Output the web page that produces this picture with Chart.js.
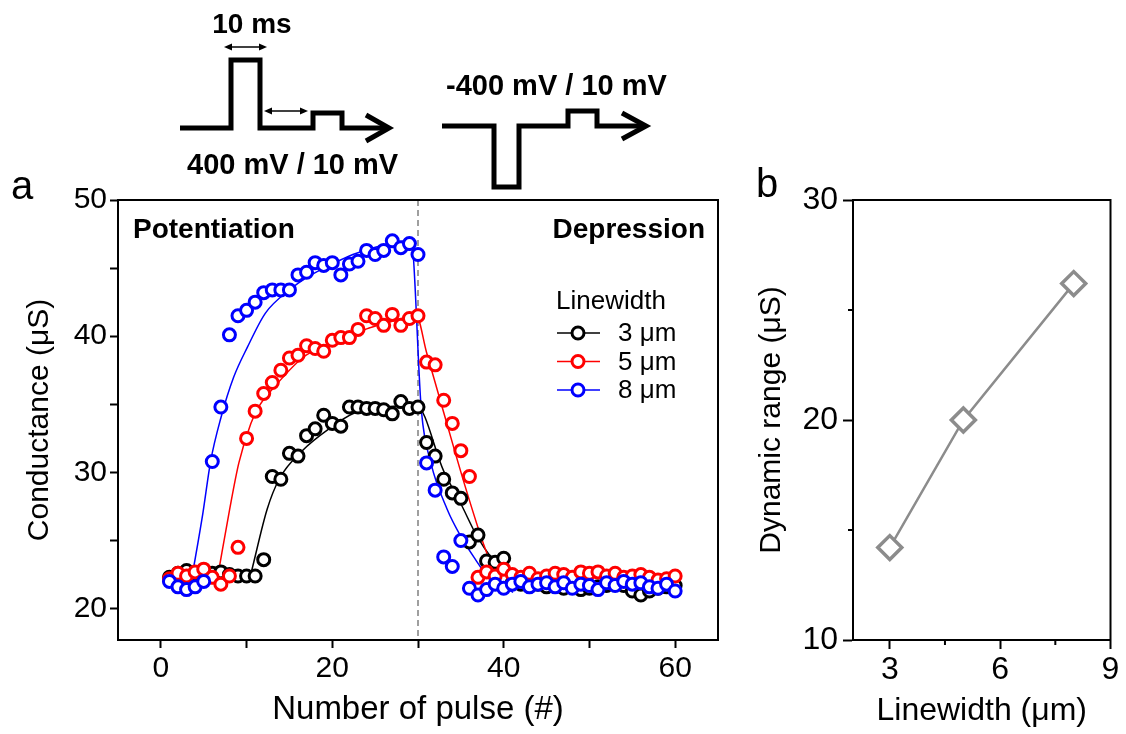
<!DOCTYPE html>
<html>
<head>
<meta charset="utf-8">
<script src="https://cdn.jsdelivr.net/npm/chart.js@4.4.1/dist/chart.umd.min.js"></script>
<style>
  body { margin: 0; background: #fff; width: 1126px; height: 734px; position: relative; overflow: hidden; font-family: "Liberation Sans", Arial, sans-serif; }
  #boxA { position: absolute; left: 0; top: 0; width: 740px; height: 734px; }
  #boxB { position: absolute; left: 740px; top: 0; width: 386px; height: 734px; }
  svg { position: absolute; left: 0; top: 0; }
</style>
</head>
<body>
<div id="boxA"><canvas id="chartA"></canvas></div>
<div id="boxB"><canvas id="chartB"></canvas></div>
<svg width="1126" height="734" font-family="Liberation Sans, Arial, sans-serif">
  <text x="11" y="199" font-size="40">a</text>
  <text x="756" y="197" font-size="40">b</text>
  <g fill="none" stroke="#000" stroke-width="5">
    <path d="M180,128 H231 V60 H260 V128 H313 V113 H342 V128 H387"/>
    <path d="M366,115 L389,128 L366,141"/>
    <path d="M442,126 H494 V187 H519 V126 H568 V111 H597 V126 H644"/>
    <path d="M622,113 L646,126 L622,139"/>
  </g>
  <g stroke="#000" stroke-width="1.5">
    <line x1="229" y1="47" x2="262" y2="47"/>
    <line x1="269" y1="111" x2="303" y2="111"/>
  </g>
  <g fill="#000">
    <polygon points="224,47 232,43.5 232,50.5"/>
    <polygon points="267,47 259,43.5 259,50.5"/>
    <polygon points="264,111 272,107.5 272,114.5"/>
    <polygon points="308,111 300,107.5 300,114.5"/>
  </g>
  <g font-weight="bold" fill="#000">
    <text x="252" y="33" font-size="28" text-anchor="middle">10 ms</text>
    <text x="187" y="174" font-size="29">400 mV / 10 mV</text>
    <text x="446" y="95" font-size="29">-400 mV / 10 mV</text>
  </g>
</svg>
<script>
// panel a: conductance per pulse, three linewidths
const pulses = [1, 2, 3, 4, 5, 6, 7, 8, 9, 10, 11, 12, 13, 14, 15, 16, 17, 18, 19, 20,
  21, 22, 23, 24, 25, 26, 27, 28, 29, 30, 31, 32, 33, 34, 35, 36, 37, 38, 39, 40,
  41, 42, 43, 44, 45, 46, 47, 48, 49, 50, 51, 52, 53, 54, 55, 56, 57, 58, 59, 60];
const black3 = [22.3, 22.6, 22.8, 22.6, 22.5, 22.6, 22.7, 22.5, 22.4, 22.4,
  22.4, 23.6, 29.7, 29.5, 31.4, 31.2, 32.7, 33.2, 34.2, 33.6,
  33.4, 34.8, 34.8, 34.7, 34.7, 34.6, 34.3, 35.2, 34.7, 34.8,
  32.2, 31.2, 29.5, 28.5, 28.1, 24.9, 25.4, 23.5, 23.4, 23.7,
  21.9, 21.8, 21.7, 21.8, 21.6, 21.7, 21.5, 21.6, 21.4, 21.5,
  21.6, 21.7, 21.8, 21.7, 21.3, 21.0, 21.3, 21.5, 21.6, 21.7];
const red5 = [22.2, 22.6, 22.4, 22.7, 22.9, 22.3, 21.8, 22.4, 24.5, 32.5,
  34.5, 35.8, 36.6, 37.5, 38.4, 38.6, 39.3, 39.1, 38.9, 39.7,
  39.9, 39.9, 40.5, 41.5, 41.3, 40.8, 41.6, 40.8, 41.3, 41.5,
  38.1, 37.9, 35.3, 33.6, 31.6, 29.7, 22.3, 22.7, 22.4, 22.9,
  22.5, 22.3, 22.6, 22.2, 22.4, 22.6, 22.5, 22.3, 22.7, 22.6,
  22.7, 22.4, 22.6, 22.3, 22.4, 22.5, 22.3, 22.1, 22.2, 22.4];
const blue8 = [22.0, 21.6, 21.4, 21.6, 22.0, 30.8, 34.8, 40.1, 41.5, 41.9,
  42.5, 43.2, 43.4, 43.4, 43.4, 44.5, 44.7, 45.4, 45.2, 45.4,
  44.5, 45.3, 45.5, 46.3, 46.0, 46.3, 47.0, 46.5, 46.8, 46.0,
  30.7, 28.7, 23.8, 23.1, 25.0, 21.5, 21.0, 21.4, 21.8, 21.5,
  21.8, 22.0, 21.6, 21.8, 21.9, 21.6, 21.9, 21.5, 21.8, 21.7,
  21.4, 21.9, 21.7, 22.0, 21.8, 21.9, 21.6, 21.5, 21.8, 21.3];

// fitted curves
const blackFitX = [10.6, 12.4, 13.8, 16.5, 19.6, 22.7, 26.0, 29.8, 33.0, 35.0, 36.9, 38.5, 40.8, 43.9, 45.5];
const blackFitY = [22.8, 27.3, 29.5, 31.6, 33.2, 34.4, 34.8, 34.9, 30.1, 27.7, 25.3, 23.8, 22.4, 21.4, 21.2];
const redFitX = [6.7, 8.0, 9.1, 10.5, 11.5, 13.0, 16.5, 19.0, 21.9, 24.3, 27.0, 29.8, 31.0, 32.0, 33.0, 35.3, 37.5, 38.5, 39.0];
const redFitY = [22.6, 27.2, 30.7, 33.6, 34.9, 36.1, 38.4, 39.3, 40.0, 40.6, 41.1, 41.5, 38.8, 36.6, 34.4, 29.4, 25.0, 23.3, 22.5];
const blueFitX = [3.6, 4.9, 5.8, 7.0, 8.5, 10.1, 12.2, 15.0, 17.0, 20.0, 22.4, 26.0, 29.2, 30.4, 31.5, 33.4, 35.0, 36.5, 38.5, 41.1];
const blueFitY = [22.2, 27.0, 30.8, 34.0, 37.0, 39.2, 41.7, 43.4, 44.3, 45.3, 46.0, 46.7, 47.0, 34.5, 30.7, 27.3, 25.3, 23.8, 22.1, 21.2];

const xTicksA = [0, 10, 20, 30, 40, 50, 60];
const yTicksA = [20, 25, 30, 35, 40, 45, 50];

// panel b: dynamic range vs linewidth
const linewidths = [3, 5, 8];
const dynRange = [14.2, 20.0, 26.2];
const xTicksB = [3, 4.5, 6, 7.5, 9];
const yTicksB = [10, 15, 20, 25, 30];

const FONT = '"Liberation Sans", Arial, sans-serif';
const pts = (xs, ys) => xs.map((x, i) => ({ x: x, y: ys[i] }));

function markerSet(label, ys, color, order) {
  return {
    label: label, data: pts(pulses, ys), showLine: false,
    borderColor: color, backgroundColor: '#fff',
    pointRadius: 6, pointHoverRadius: 6, pointBorderWidth: 3, order: order
  };
}
function fitSet(xs, ys, color) {
  return {
    data: pts(xs, ys), showLine: true, borderColor: color, borderWidth: 1.5,
    pointRadius: 0, cubicInterpolationMode: 'monotone', fill: false, order: 5
  };
}

const seriesA = [
  { label: '3 μm', color: '#000000' },
  { label: '5 μm', color: '#ff0000' },
  { label: '8 μm', color: '#0000ff' }
];

const panelA = {
  id: 'panelA',
  beforeDatasetsDraw(chart) {
    const { ctx, chartArea, scales } = chart;
    const x = scales.x.getPixelForValue(30);
    ctx.save();
    ctx.strokeStyle = '#808080';
    ctx.lineWidth = 1.5;
    ctx.setLineDash([6, 4]);
    ctx.beginPath();
    ctx.moveTo(x, chartArea.top);
    ctx.lineTo(x, chartArea.bottom);
    ctx.stroke();
    ctx.restore();
  },
  afterDraw(chart) {
    const { ctx, chartArea: a } = chart;
    ctx.save();
    ctx.strokeStyle = '#000';
    ctx.lineWidth = 2;
    ctx.strokeRect(a.left, a.top, a.right - a.left, a.bottom - a.top);

    ctx.fillStyle = '#000';
    ctx.font = 'bold 28px ' + FONT;
    ctx.textBaseline = 'middle';
    ctx.textAlign = 'left';
    ctx.fillText('Potentiation', a.left + 15, a.top + 30);
    ctx.textAlign = 'right';
    ctx.fillText('Depression', a.right - 13, a.top + 30);

    ctx.textAlign = 'left';
    ctx.font = '26px ' + FONT;
    ctx.fillText('Linewidth', 556, 302);
    seriesA.forEach((s, i) => {
      const y = 333 + i * 28.5;
      ctx.strokeStyle = s.color;
      ctx.lineWidth = 1.5;
      ctx.beginPath();
      ctx.moveTo(557, y);
      ctx.lineTo(600, y);
      ctx.stroke();
      ctx.beginPath();
      ctx.arc(578, y, 6, 0, Math.PI * 2);
      ctx.fillStyle = '#fff';
      ctx.fill();
      ctx.lineWidth = 3;
      ctx.stroke();
      ctx.fillStyle = '#000';
      ctx.fillText(s.label, 618, y + 1);
    });
    ctx.restore();
  }
};

new Chart(document.getElementById('chartA'), {
  type: 'scatter',
  data: {
    datasets: [
      markerSet('8 μm', blue8, '#0000ff', 0),
      markerSet('5 μm', red5, '#ff0000', 1),
      markerSet('3 μm', black3, '#000000', 2),
      fitSet(blueFitX, blueFitY, '#0000ff'),
      fitSet(redFitX, redFitY, '#ff0000'),
      fitSet(blackFitX, blackFitY, '#000000')
    ]
  },
  options: {
    responsive: true,
    maintainAspectRatio: false,
    animation: false,
    layout: { padding: { top: 200, right: 22, left: 0, bottom: 0 } },
    plugins: { legend: { display: false }, tooltip: { enabled: false } },
    scales: {
      x: {
        type: 'linear', min: -5, max: 65,
        afterBuildTicks: s => { s.ticks = xTicksA.map(v => ({ value: v })); },
        afterFit: s => { s.height = 94; },
        ticks: {
          callback: v => (v % 20 === 0 ? String(v) : ''),
          font: { family: FONT, size: 30 }, color: '#000', padding: 3,
          maxRotation: 0, autoSkip: false
        },
        grid: { drawOnChartArea: false, tickLength: 8, tickWidth: 2, tickColor: '#000' },
        border: { color: '#000', width: 2 },
        title: { display: true, text: 'Number of pulse (#)', color: '#000',
          font: { family: FONT, size: 33 }, padding: { top: 0, bottom: 4 } }
      },
      y: {
        type: 'linear', min: 17.7, max: 50,
        afterBuildTicks: s => { s.ticks = yTicksA.map(v => ({ value: v })); },
        afterFit: s => { s.width = 118; },
        ticks: {
          callback: v => (v % 10 === 0 ? String(v) : ''),
          font: { family: FONT, size: 30 }, color: '#000', padding: 3, autoSkip: false
        },
        grid: { drawOnChartArea: false, tickLength: 8, tickWidth: 2, tickColor: '#000' },
        border: { color: '#000', width: 2 },
        title: { display: true, text: 'Conductance (μS)', color: '#000',
          font: { family: FONT, size: 30 }, padding: { top: 22, bottom: 0 } }
      }
    }
  },
  plugins: [panelA]
});

const panelB = {
  id: 'panelB',
  afterDraw(chart) {
    const { ctx, chartArea: a, scales } = chart;
    ctx.save();
    ctx.strokeStyle = '#000';
    ctx.lineWidth = 2;
    ctx.strokeRect(a.left, a.top, a.right - a.left, a.bottom - a.top);
    // short minor ticks
    ctx.beginPath();
    xTicksB.filter(v => v % 3 !== 0).forEach(v => {
      const x = scales.x.getPixelForValue(v);
      ctx.moveTo(x, a.bottom);
      ctx.lineTo(x, a.bottom + 5);
    });
    yTicksB.filter(v => v % 10 !== 0).forEach(v => {
      const y = scales.y.getPixelForValue(v);
      ctx.moveTo(a.left, y);
      ctx.lineTo(a.left - 5, y);
    });
    ctx.stroke();
    ctx.restore();
  }
};

new Chart(document.getElementById('chartB'), {
  type: 'scatter',
  data: {
    datasets: [{
      data: pts(linewidths, dynRange), showLine: true,
      borderColor: '#8c8c8c', borderWidth: 2.5, backgroundColor: '#fff',
      pointStyle: 'rectRot', pointRadius: 12, pointHoverRadius: 12, pointBorderWidth: 3.5
    }]
  },
  options: {
    responsive: true,
    maintainAspectRatio: false,
    animation: false,
    layout: { padding: { top: 200, right: 13, left: 0, bottom: 0 } },
    plugins: { legend: { display: false }, tooltip: { enabled: false } },
    scales: {
      x: {
        type: 'linear', min: 2, max: 9,
        afterBuildTicks: s => { s.ticks = xTicksB.map(v => ({ value: v })); },
        afterFit: s => { s.height = 94; },
        ticks: {
          callback: v => (v % 3 === 0 ? String(v) : ''),
          font: { family: FONT, size: 32 }, color: '#000', padding: 2,
          maxRotation: 0, autoSkip: false
        },
        grid: { drawOnChartArea: false, tickLength: 9, tickWidth: 2,
          tickColor: c => (c.tick && c.tick.value % 3 !== 0 ? 'rgba(0,0,0,0)' : '#000') },
        border: { color: '#000', width: 2 },
        title: { display: true, text: 'Linewidth (μm)', color: '#000',
          font: { family: FONT, size: 32 }, padding: { top: 0, bottom: 4 } }
      },
      y: {
        type: 'linear', min: 10, max: 30,
        afterBuildTicks: s => { s.ticks = yTicksB.map(v => ({ value: v })); },
        afterFit: s => { s.width = 113; },
        ticks: {
          callback: v => (v % 10 === 0 ? String(v) : ''),
          font: { family: FONT, size: 32 }, color: '#000', padding: 5, autoSkip: false
        },
        grid: { drawOnChartArea: false, tickLength: 10, tickWidth: 2,
          tickColor: c => (c.tick && c.tick.value % 10 !== 0 ? 'rgba(0,0,0,0)' : '#000') },
        border: { color: '#000', width: 2 },
        title: { display: true, text: 'Dynamic range (μS)', color: '#000',
          font: { family: FONT, size: 30 }, padding: { top: 14, bottom: 0 } }
      }
    }
  },
  plugins: [panelB]
});
</script>
</body>
</html>
